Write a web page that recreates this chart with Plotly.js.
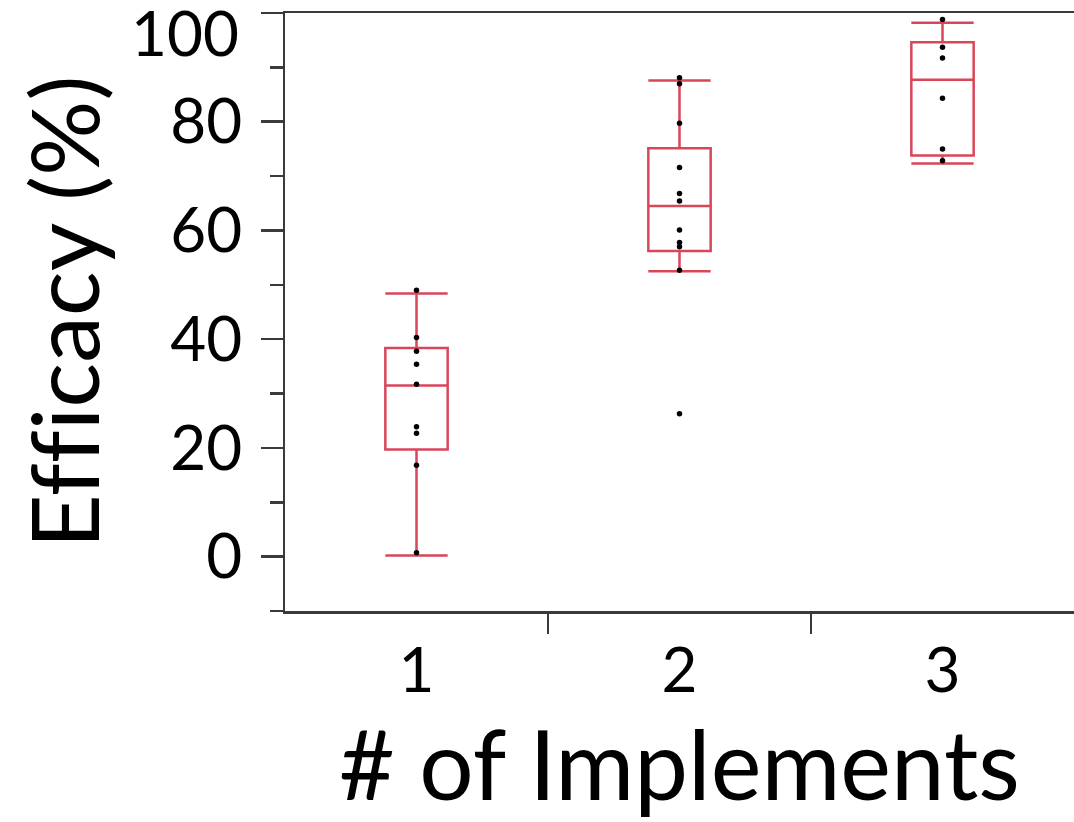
<!DOCTYPE html>
<html>
<head>
<meta charset="utf-8">
<script src="https://cdn.plot.ly/plotly-3.0.1.min.js"></script>
<style>
html,body{margin:0;padding:0;background:#fff;}
#chart{width:1074px;height:822px;}
#chart text{font-variant-ligatures:none;font-feature-settings:"liga" 0;}
</style>
</head>
<body>
<div id="chart"></div>
<script>
// Categories
var groups = [1, 2, 3];
var tickLabels = ['1', '2', '3'];
var yTickVals = [0, 20, 40, 60, 80, 100];
var yTickText = ['0', '20', '40', '60', '80', '100'];

// Box statistics
var q1Vals = [19.7, 56.2, 73.8];
var medianVals = [31.5, 64.5, 87.7];
var q3Vals = [38.4, 75.1, 94.6];
var lowerFence = [0.2, 52.5, 72.3];
var upperFence = [48.4, 87.6, 98.2];

// Individual data points
var pts1 = [49.0, 40.3, 37.8, 35.4, 31.7, 23.9, 22.7, 16.8, 0.7];
var pts2 = [88.1, 87.0, 79.7, 71.6, 66.8, 65.4, 60.1, 57.8, 57.0, 52.7, 26.3];
var pts3 = [98.8, 93.7, 91.7, 84.3, 75.0, 72.8];

var ptX = [], ptY = [];
[pts1, pts2, pts3].forEach(function (arr, i) {
  arr.forEach(function (v) { ptX.push(groups[i]); ptY.push(v); });
});

var red = '#d9465a';
var axisColor = '#3a3a3a';

var boxTrace = {
  type: 'box',
  x: groups,
  q1: q1Vals,
  median: medianVals,
  q3: q3Vals,
  lowerfence: lowerFence,
  upperfence: upperFence,
  width: 0.237,
  whiskerwidth: 1,
  boxpoints: false,
  fillcolor: 'rgba(0,0,0,0)',
  line: {color: red, width: 2.5},
  hoverinfo: 'skip',
  showlegend: false
};

var ptTrace = {
  type: 'scatter',
  mode: 'markers',
  x: ptX,
  y: ptY,
  marker: {color: '#000', size: 5.5},
  cliponaxis: false,
  showlegend: false
};

var font = "Lato, 'Open Sans', sans-serif";
var tickFont = {family: font, size: 62, color: '#000'};

// the top tick label sits lower so it stays inside the picture
var lastIdx = yTickVals.length - 1;
var axisTickText = yTickText.map(function (t, i) { return i === lastIdx ? '' : t; });

var layout = {
  width: 1074,
  height: 822,
  margin: {l: 285, r: 0, t: 13, b: 211},
  paper_bgcolor: '#fff',
  plot_bgcolor: '#fff',
  showlegend: false,
  font: {family: font, color: '#000'},
  xaxis: {
    type: 'linear',
    range: [0.5, 3.5],
    tickmode: 'array',
    tickvals: groups,
    ticktext: tickLabels,
    ticks: '',
    showgrid: false,
    zeroline: false,
    showline: true,
    mirror: true,
    linecolor: axisColor,
    linewidth: 2.5,
    tickfont: tickFont,
    ticklabelstandoff: 4,
    minor: {tickmode: 'array', tickvals: [1.5, 2.5], ticks: 'outside', ticklen: 20, tickwidth: 2.5, tickcolor: axisColor, showgrid: false},
    title: {text: '# of Implements', font: {family: font, size: 96, color: '#000'}, standoff: 14}
  },
  yaxis: {
    range: [-10, 100],
    tickmode: 'array',
    tickvals: yTickVals,
    ticktext: axisTickText,
    ticks: 'outside',
    ticklen: 22,
    tickwidth: 2.5,
    tickcolor: axisColor,
    showgrid: false,
    zeroline: false,
    showline: true,
    linecolor: axisColor,
    linewidth: 2.5,
    tickfont: tickFont,
    ticklabelstandoff: 6,
    minor: {tickmode: 'array', tickvals: [-10, 10, 30, 50, 70, 90], ticks: 'outside', ticklen: 13, tickwidth: 2.5, tickcolor: axisColor, showgrid: false},
    title: {text: 'Efficacy (%)', font: {family: font, size: 94, color: '#000'}, standoff: 40}
  },
  annotations: [{
    xref: 'paper', yref: 'y', x: 0, y: yTickVals[lastIdx],
    text: yTickText[lastIdx], showarrow: false,
    xanchor: 'right', yanchor: 'middle', xshift: -44, yshift: -19,
    font: tickFont
  }]
};

Plotly.newPlot('chart', [boxTrace, ptTrace], layout, {displayModeBar: false, staticPlot: true});
</script>
</body>
</html>
